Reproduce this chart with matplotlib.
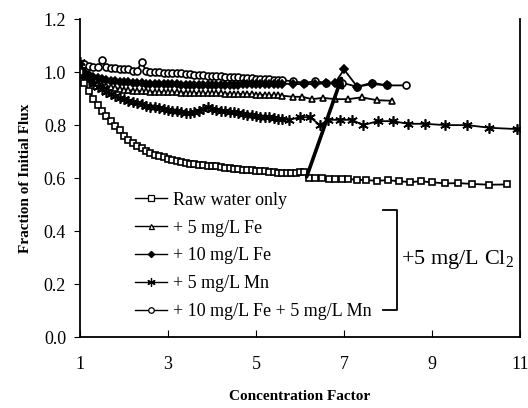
import matplotlib
matplotlib.use("Agg")
import matplotlib.pyplot as plt

plt.rcParams["font.family"] = ["Liberation Serif", "DejaVu Serif"]
plt.rcParams["mathtext.fontset"] = "custom"
plt.rcParams["mathtext.rm"] = "Liberation Serif"

# concentration factors of the densely sampled part
cf_dense = [1.0, 1.1, 1.2, 1.3, 1.4, 1.5, 1.6, 1.7, 1.8, 1.9,
            2.0, 2.1, 2.2, 2.3, 2.4, 2.5, 2.6, 2.7, 2.8, 2.9,
            3.0, 3.1, 3.2, 3.3, 3.4, 3.5, 3.6, 3.7, 3.8, 3.9,
            4.0, 4.1, 4.2, 4.3, 4.4, 4.5, 4.6, 4.7, 4.8, 4.9,
            5.0, 5.1, 5.2, 5.3, 5.4, 5.5, 5.6]

# raw water only
raw_dense = [1.00, 0.96, 0.93, 0.90, 0.875, 0.855, 0.835, 0.815, 0.795, 0.78,
             0.76, 0.745, 0.733, 0.722, 0.712, 0.703, 0.696, 0.689, 0.683, 0.678,
             0.673, 0.669, 0.665, 0.661, 0.658, 0.655, 0.652, 0.650, 0.648, 0.646,
             0.644, 0.647, 0.642, 0.639, 0.637, 0.635, 0.633, 0.632, 0.630, 0.629,
             0.628, 0.626, 0.625, 0.624, 0.622, 0.621, 0.620]
raw_tail_x = [5.7, 5.8, 5.9, 6.0, 6.1, 6.2, 6.35, 6.5, 6.65, 6.8, 6.95, 7.1, 7.3, 7.5,
              7.75, 8.0, 8.25, 8.5, 8.75, 9.0, 9.3, 9.6, 9.9, 10.3, 10.7]
raw_tail_y = [0.619, 0.619, 0.621, 0.623, 0.624, 0.600, 0.602, 0.600, 0.598, 0.597,
              0.597, 0.596, 0.594, 0.592, 0.590, 0.592, 0.588, 0.585, 0.588, 0.584,
              0.580, 0.581, 0.578, 0.575, 0.576]

# + 5 mg/L Fe
fe5_dense = [1.02, 0.99, 0.975, 0.965, 0.958, 0.952, 0.948, 0.944, 0.940, 0.937,
             0.934, 0.932, 0.930, 0.929, 0.928, 0.927, 0.926, 0.926, 0.925, 0.925,
             0.925, 0.924, 0.924, 0.923, 0.923, 0.922, 0.922, 0.921, 0.921, 0.920,
             0.920, 0.921, 0.920, 0.919, 0.919, 0.918, 0.918, 0.917, 0.917, 0.916,
             0.915, 0.915, 0.914, 0.913, 0.913, 0.912, 0.911]
fe5_tail_x = [5.84, 6.05, 6.27, 6.52, 6.8, 7.1, 7.4, 7.75, 8.1]
fe5_tail_y = [0.907, 0.907, 0.898, 0.903, 0.898, 0.898, 0.905, 0.894, 0.892]

# + 10 mg/L Fe
fe10_dense = [1.03, 1.00, 0.990, 0.983, 0.978, 0.974, 0.971, 0.968, 0.966, 0.964,
              0.962, 0.961, 0.960, 0.959, 0.958, 0.957, 0.957, 0.956, 0.956, 0.955,
              0.955, 0.954, 0.954, 0.953, 0.953, 0.952, 0.952, 0.951, 0.951, 0.950,
              0.950, 0.951, 0.951, 0.952, 0.952, 0.953, 0.953, 0.954, 0.954, 0.955,
              0.955, 0.955, 0.956, 0.956, 0.956, 0.957, 0.957]
fe10_tail_x = [5.84, 6.1, 6.34, 6.6, 6.8, 7.0, 7.3, 7.64, 7.98]
fe10_tail_y = [0.955, 0.955, 0.955, 0.958, 0.96, 1.01, 0.945, 0.955, 0.95]

# + 5 mg/L Mn
mn5_dense = [1.04, 0.99, 0.97, 0.955, 0.945, 0.935, 0.926, 0.918, 0.910, 0.903,
             0.897, 0.892, 0.887, 0.882, 0.878, 0.874, 0.870, 0.867, 0.864, 0.861,
             0.858, 0.855, 0.852, 0.849, 0.846, 0.845, 0.848, 0.855, 0.862, 0.870,
             0.862, 0.858, 0.855, 0.852, 0.850, 0.848, 0.846, 0.843, 0.840, 0.837,
             0.834, 0.830, 0.832, 0.830, 0.827, 0.824, 0.823]
mn5_tail_x = [5.75, 6.0, 6.23, 6.45, 6.64, 6.9, 7.18, 7.43, 7.77, 8.11, 8.45, 8.84,
              9.3, 9.8, 10.3, 10.93]
mn5_tail_y = [0.82, 0.83, 0.83, 0.80, 0.82, 0.82, 0.82, 0.80, 0.815, 0.815, 0.805,
              0.805, 0.80, 0.80, 0.79, 0.785]

# + 10 mg/L Fe + 5 mg/L Mn
femn_dense = [1.03, 1.03, 1.025, 1.02, 1.02, 1.045, 1.02, 1.015, 1.015, 1.01,
              1.01, 1.01, 1.005, 1.005, 1.04, 1.005, 1.0, 1.0, 1.0, 0.998,
              0.998, 0.996, 0.995, 0.995, 0.993, 0.992, 0.99, 0.99, 0.988, 0.987,
              0.986, 0.985, 0.984, 0.983, 0.982, 0.981, 0.98, 0.979, 0.978, 0.977,
              0.976, 0.975, 0.974, 0.973, 0.972, 0.971, 0.97]
femn_tail_x = [5.84, 6.1, 6.34, 6.6, 6.95, 7.3, 7.64, 7.98, 8.4]
femn_tail_y = [0.965, 0.96, 0.965, 0.96, 0.96, 0.945, 0.96, 0.95, 0.95]

labels = ["Raw water only", "+ 5 mg/L Fe", "+ 10 mg/L Fe", "+ 5 mg/L Mn",
          "+ 10 mg/L Fe + 5 mg/L Mn"]

fig = plt.figure(figsize=(5.28, 4.08), dpi=100)
ax = fig.add_axes([0.1515, 0.174, 0.8335, 0.779])

kw = dict(color="black", lw=1.3, markeredgewidth=1.2)
l_femn, = ax.plot(cf_dense + femn_tail_x, femn_dense + femn_tail_y, marker="o", ms=5,
                  mfc="white", label=labels[4], **kw)
l_fe5, = ax.plot(cf_dense + fe5_tail_x, fe5_dense + fe5_tail_y, marker="^", ms=4.5,
                 mfc="white", label=labels[1], **kw)
l_fe10, = ax.plot(cf_dense + fe10_tail_x, fe10_dense + fe10_tail_y, marker="D", ms=4,
                  mfc="black", label=labels[2], **kw)
l_mn, = ax.plot(cf_dense + mn5_tail_x, mn5_dense + mn5_tail_y, marker=(6, 2, 0), ms=7.5,
                label=labels[3], **kw)
l_raw, = ax.plot(cf_dense + raw_tail_x, raw_dense + raw_tail_y, marker="s", ms=4.8,
                 mfc="white", label=labels[0], **kw)

ax.annotate("", xy=(6.97, 0.99), xytext=(6.15, 0.605),
            arrowprops=dict(arrowstyle="-|>", color="black", lw=2.6,
                            mutation_scale=15, shrinkA=0, shrinkB=0))

ax.set_xlim(1, 11)
ax.set_ylim(0, 1.2)
ax.set_xticks([1, 3, 5, 7, 9, 11])
ax.set_yticks([0.0, 0.2, 0.4, 0.6, 0.8, 1.0, 1.2])
ax.set_yticklabels(["0.0", "0.2", "0.4", "0.6", "0.8", "1.0", "1.2"])
ax.tick_params(axis="x", direction="in", length=5, labelsize=13, pad=14)
ax.tick_params(axis="y", direction="out", length=4, labelsize=13, pad=6)
ax.spines["top"].set_visible(False)
for s in ["left", "bottom", "right"]:
    ax.spines[s].set_linewidth(1.3)

ax.set_xlabel("Concentration Factor", fontsize=11, fontweight="bold", labelpad=12)
ax.set_ylabel("Fraction of Initial Flux", fontsize=11, fontweight="bold", labelpad=8)

leg = ax.legend(handles=[l_raw, l_fe5, l_fe10, l_mn, l_femn], loc="upper left",
                bbox_to_anchor=(0.108, 0.48), frameon=False, fontsize=13,
                handlelength=1.8, handletextpad=0.3, labelspacing=0.6,
                borderaxespad=0, markerscale=0.8)
for h in leg.legend_handles:
    h.set_linewidth(1.0)
    h.set_markeredgewidth(0.9)

# bracket for the chlorinated runs
ax.plot([0.689, 0.720, 0.720, 0.689], [0.40, 0.40, 0.085, 0.085],
        transform=ax.transAxes, color="black", lw=1.3)
ax.text(0.730, 0.245, "+5 mg/L Cl$_2$", transform=ax.transAxes, fontsize=16,
        va="center", ha="left")

fig.savefig("out.png", dpi=100)
